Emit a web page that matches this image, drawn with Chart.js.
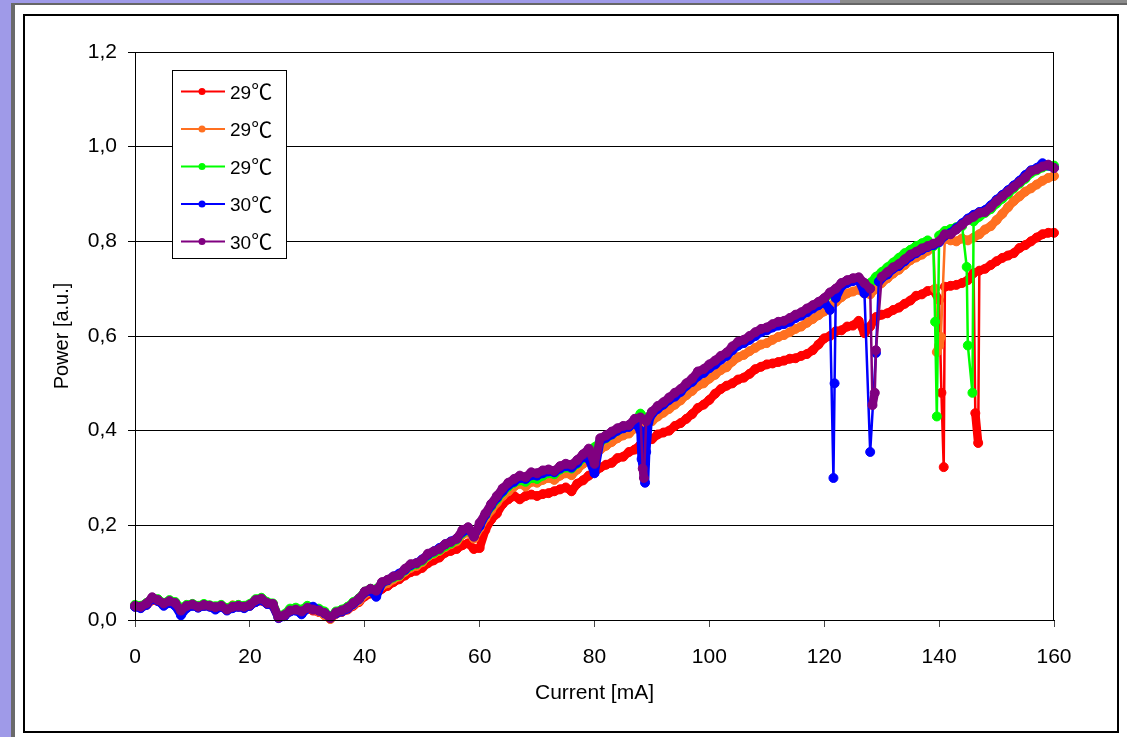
<!DOCTYPE html>
<html>
<head>
<meta charset="utf-8">
<script src="https://cdn.jsdelivr.net/npm/chart.js@4/dist/chart.umd.min.js"></script>
<style>
  body { margin: 0; background: #fff; width: 1127px; height: 737px; overflow: hidden; position: relative; }
  .strip { position: absolute; }
  #frame { position: absolute; left: 23px; top: 14px; width: 1092px; height: 715px; border: 2px solid #000; background: #fff; }
  #chartPower { display: block; }
</style>
</head>
<body>
<div class="strip" style="left:0;top:0;width:1127px;height:3px;background:#9f9ae8"></div>
<div class="strip" style="left:840px;top:0;width:287px;height:3px;background:#8c8c8c"></div>
<div class="strip" style="left:0;top:0;width:11px;height:737px;background:#9f9ae8"></div>
<div class="strip" style="left:11px;top:3px;width:1116px;height:2px;background:#666"></div>
<div class="strip" style="left:11px;top:3px;width:4px;height:734px;background:#6a6a6a"></div>
<div id="frame"><canvas id="chartPower" width="1092" height="715"></canvas></div>

<script>
// eje X: corriente en mA (una muestra por mA)
const currentMA = [];
for (let i = 0; i <= 160; i++) currentMA.push(i);

const seriesTemps = ['29', '29', '29', '30', '30'];
const seriesLabels = seriesTemps.map(t => t + '℃');
const seriesColors = ['#ff0000', '#ff7020', '#00ff00', '#0000ff', '#800080'];

const yTicks = [0, 0.2, 0.4, 0.6, 0.8, 1.0, 1.2];
const xTicks = [0, 20, 40, 60, 80, 100, 120, 140, 160];

// potencia, 0..160 mA
const powerRed = [
  0.028, 0.026, 0.032, 0.042, 0.040, 0.032, 0.037, 0.032, 0.018, 0.027,
  0.031, 0.027, 0.030, 0.029, 0.025, 0.029, 0.022, 0.029, 0.028, 0.026,
  0.030, 0.038, 0.041, 0.034, 0.030, 0.005, 0.009, 0.019, 0.021, 0.017,
  0.024, 0.020, 0.017, 0.012, 0.003, 0.013, 0.017, 0.022, 0.030, 0.038,
  0.050, 0.056, 0.055, 0.066, 0.072, 0.080, 0.086, 0.094, 0.101, 0.104,
  0.110, 0.120, 0.126, 0.132, 0.142, 0.146, 0.150, 0.158, 0.162, 0.150,
  0.152, 0.190, 0.212, 0.225, 0.245, 0.255, 0.262, 0.255, 0.262, 0.265,
  0.262, 0.266, 0.268, 0.272, 0.276, 0.280, 0.272, 0.288, 0.295, 0.305,
  0.312, 0.322, 0.328, 0.332, 0.342, 0.345, 0.355, 0.360, 0.370, 0.378,
  0.382, 0.392, 0.396, 0.400, 0.410, 0.416, 0.425, 0.435, 0.448, 0.455,
  0.465, 0.478, 0.488, 0.495, 0.500, 0.508, 0.512, 0.520, 0.530, 0.535,
  0.540, 0.542, 0.545, 0.548, 0.552, 0.553, 0.558, 0.562, 0.570, 0.582,
  0.595, 0.600, 0.610, 0.612, 0.620, 0.622, 0.632, 0.606, 0.620, 0.640,
  0.645, 0.648, 0.655, 0.660, 0.668, 0.675, 0.685, 0.688, 0.695, 0.697,
  0.676, 0.704, 0.706, 0.708, 0.712, 0.718, 0.733, 0.738, 0.742, 0.750,
  0.758, 0.765, 0.770, 0.775, 0.786, 0.792, 0.800, 0.808, 0.815, 0.818, 0.818
];
const powerOrange = [
  0.030, 0.027, 0.033, 0.044, 0.040, 0.033, 0.038, 0.034, 0.022, 0.028,
  0.032, 0.028, 0.031, 0.030, 0.026, 0.030, 0.023, 0.031, 0.030, 0.027,
  0.031, 0.040, 0.043, 0.035, 0.032, 0.006, 0.010, 0.020, 0.023, 0.018,
  0.025, 0.022, 0.018, 0.010, 0.002, 0.014, 0.018, 0.024, 0.032, 0.040,
  0.054, 0.060, 0.058, 0.072, 0.078, 0.086, 0.092, 0.102, 0.110, 0.114,
  0.122, 0.134, 0.140, 0.146, 0.154, 0.160, 0.166, 0.180, 0.186, 0.172,
  0.194, 0.215, 0.232, 0.248, 0.262, 0.272, 0.282, 0.288, 0.282, 0.292,
  0.290, 0.296, 0.300, 0.296, 0.305, 0.310, 0.306, 0.318, 0.330, 0.340,
  0.350, 0.360, 0.368, 0.376, 0.384, 0.390, 0.394, 0.405, 0.410, 0.412,
  0.420, 0.430, 0.438, 0.446, 0.455, 0.464, 0.475, 0.484, 0.495, 0.500,
  0.510, 0.518, 0.528, 0.534, 0.546, 0.555, 0.560, 0.568, 0.575, 0.582,
  0.585, 0.592, 0.598, 0.602, 0.608, 0.615, 0.620, 0.628, 0.636, 0.644,
  0.652, 0.664, 0.672, 0.682, 0.690, 0.694, 0.698, 0.690, 0.688, 0.700,
  0.712, 0.722, 0.732, 0.740, 0.750, 0.760, 0.766, 0.772, 0.780, 0.790,
  0.580, 0.805, 0.802, 0.800, 0.806, 0.802, 0.808, 0.815, 0.825, 0.832,
  0.845, 0.858, 0.872, 0.885, 0.895, 0.905, 0.912, 0.920, 0.928, 0.934, 0.938
];
const powerGreen = [
  0.032, 0.030, 0.036, 0.046, 0.044, 0.036, 0.042, 0.038, 0.025, 0.032,
  0.034, 0.030, 0.034, 0.031, 0.029, 0.032, 0.025, 0.030, 0.032, 0.030,
  0.034, 0.044, 0.047, 0.038, 0.035, 0.006, 0.012, 0.024, 0.026, 0.022,
  0.030, 0.026, 0.024, 0.018, 0.006, 0.018, 0.022, 0.028, 0.038, 0.046,
  0.060, 0.066, 0.065, 0.078, 0.084, 0.090, 0.094, 0.105, 0.114, 0.118,
  0.125, 0.136, 0.142, 0.148, 0.156, 0.162, 0.170, 0.184, 0.190, 0.178,
  0.200, 0.222, 0.240, 0.255, 0.270, 0.282, 0.290, 0.295, 0.292, 0.300,
  0.298, 0.305, 0.310, 0.308, 0.318, 0.322, 0.320, 0.330, 0.342, 0.355,
  0.365, 0.376, 0.384, 0.392, 0.400, 0.406, 0.410, 0.420, 0.436, 0.425,
  0.438, 0.448, 0.456, 0.466, 0.475, 0.484, 0.496, 0.505, 0.518, 0.525,
  0.535, 0.543, 0.552, 0.560, 0.572, 0.580, 0.586, 0.594, 0.602, 0.610,
  0.614, 0.620, 0.625, 0.628, 0.634, 0.640, 0.646, 0.654, 0.662, 0.670,
  0.678, 0.688, 0.698, 0.708, 0.715, 0.718, 0.720, 0.705, 0.712, 0.725,
  0.735, 0.745, 0.755, 0.765, 0.775, 0.782, 0.790, 0.796, 0.802, 0.790,
  0.812, 0.822, 0.826, 0.830, 0.832, 0.580, 0.842, 0.852, 0.860, 0.868,
  0.880, 0.890, 0.900, 0.912, 0.922, 0.932, 0.944, 0.950, 0.956, 0.960, 0.960
];
const powerBlue = [
  0.028, 0.025, 0.032, 0.045, 0.040, 0.030, 0.036, 0.030, 0.010, 0.025,
  0.030, 0.026, 0.030, 0.028, 0.022, 0.028, 0.020, 0.025, 0.028, 0.025,
  0.030, 0.038, 0.042, 0.034, 0.030, 0.004, 0.008, 0.018, 0.020, 0.012,
  0.024, 0.028, 0.020, 0.014, 0.006, 0.014, 0.018, 0.024, 0.034, 0.044,
  0.058, 0.062, 0.049, 0.078, 0.084, 0.092, 0.098, 0.106, 0.116, 0.120,
  0.128, 0.138, 0.145, 0.152, 0.160, 0.166, 0.172, 0.186, 0.192, 0.178,
  0.198, 0.222, 0.242, 0.258, 0.272, 0.285, 0.292, 0.300, 0.298, 0.306,
  0.305, 0.310, 0.314, 0.312, 0.320, 0.325, 0.322, 0.332, 0.345, 0.340,
  0.310, 0.378, 0.385, 0.392, 0.400, 0.405, 0.408, 0.418, 0.400, 0.355,
  0.435, 0.446, 0.455, 0.465, 0.472, 0.482, 0.495, 0.503, 0.515, 0.522,
  0.532, 0.540, 0.550, 0.558, 0.570, 0.580, 0.585, 0.592, 0.600, 0.608,
  0.612, 0.618, 0.622, 0.625, 0.630, 0.638, 0.643, 0.650, 0.658, 0.665,
  0.672, 0.655, 0.680, 0.705, 0.712, 0.716, 0.718, 0.690, 0.355, 0.564,
  0.722, 0.730, 0.742, 0.748, 0.758, 0.768, 0.775, 0.782, 0.788, 0.792,
  0.798, 0.812, 0.818, 0.828, 0.838, 0.848, 0.856, 0.862, 0.866, 0.876,
  0.888, 0.898, 0.908, 0.918, 0.928, 0.940, 0.950, 0.955, 0.965, 0.960, 0.955
];
const powerPurple = [
  0.030, 0.028, 0.035, 0.048, 0.042, 0.035, 0.040, 0.036, 0.020, 0.030,
  0.033, 0.028, 0.032, 0.030, 0.027, 0.030, 0.022, 0.028, 0.030, 0.028,
  0.032, 0.042, 0.045, 0.036, 0.034, 0.005, 0.010, 0.020, 0.022, 0.018,
  0.026, 0.022, 0.020, 0.015, 0.004, 0.016, 0.020, 0.026, 0.036, 0.045,
  0.060, 0.066, 0.062, 0.080, 0.085, 0.092, 0.095, 0.108, 0.118, 0.120,
  0.127, 0.140, 0.145, 0.150, 0.160, 0.165, 0.172, 0.190, 0.196, 0.176,
  0.205, 0.225, 0.245, 0.262, 0.278, 0.290, 0.298, 0.305, 0.302, 0.312,
  0.310, 0.316, 0.318, 0.315, 0.325, 0.330, 0.328, 0.338, 0.350, 0.362,
  0.330, 0.384, 0.390, 0.398, 0.405, 0.410, 0.412, 0.425, 0.428, 0.420,
  0.440, 0.452, 0.460, 0.470, 0.480, 0.488, 0.500, 0.510, 0.525, 0.530,
  0.540, 0.548, 0.558, 0.565, 0.578, 0.588, 0.592, 0.600, 0.608, 0.615,
  0.618, 0.625, 0.630, 0.632, 0.638, 0.645, 0.650, 0.658, 0.665, 0.672,
  0.680, 0.692, 0.700, 0.712, 0.718, 0.722, 0.724, 0.712, 0.700, 0.570,
  0.725, 0.735, 0.745, 0.752, 0.762, 0.772, 0.778, 0.785, 0.790, 0.795,
  0.800, 0.815, 0.815, 0.825, 0.835, 0.845, 0.852, 0.860, 0.862, 0.872,
  0.885, 0.895, 0.905, 0.915, 0.925, 0.935, 0.948, 0.952, 0.958, 0.962, 0.955
];

// caidas bruscas entre muestras: [mA, potencia]
const dipsRed = [[140.4, 0.48], [140.8, 0.323], [146.3, 0.437], [146.8, 0.374]];
const dipsOrange = [[139.3, 0.70], [139.6, 0.566], [140.3, 0.598]];
const dipsGreen = [[139.3, 0.63], [139.6, 0.43], [144.8, 0.746], [145.8, 0.48]];
const dipsBlue = [[88.2, 0.34], [88.8, 0.29], [89.4, 0.418], [121.6, 0.30], [121.8, 0.50], [129.5, 0.715]];
const dipsPurple = [[88.4, 0.32], [88.6, 0.30], [128.4, 0.454], [128.8, 0.48]];

const allPower = [powerRed, powerOrange, powerGreen, powerBlue, powerPurple];
const allDips = [dipsRed, dipsOrange, dipsGreen, dipsBlue, dipsPurple];

const FONT = "'Liberation Sans', Arial, 'DejaVu Sans', sans-serif";
const CJK_FONT = "'Noto Sans CJK JP', 'Noto Sans CJK SC', sans-serif";

function buildPoints(values, dips) {
  const pts = currentMA.map((x, i) => ({ x: x, y: values[i] }));
  dips.forEach(d => pts.push({ x: d[0], y: d[1] }));
  pts.sort((a, b) => a.x - b.x);
  return pts;
}

function fmt(v) {
  return v.toFixed(1).replace('.', ',');
}

// tramos normales gruesos (muestras muy densas), caidas con linea fina
function segWidth(c) {
  return Math.abs(c.p1.parsed.y - c.p0.parsed.y) > 0.08 ? 2.5 : 8.5;
}

// borde del area de trazado + leyenda con marco
const framePlugin = {
  id: 'frameLegend',
  afterDraw(chart) {
    const ctx = chart.ctx;
    const a = chart.chartArea;
    ctx.save();
    ctx.strokeStyle = '#000';
    ctx.lineWidth = 1;
    ctx.strokeRect(a.left + 0.5, a.top + 0.5, a.right - a.left - 1, a.bottom - a.top);

    const bx = a.left + 37, by = a.top + 18, bw = 114, bh = 188;
    ctx.fillStyle = '#fff';
    ctx.fillRect(bx, by, bw, bh);
    ctx.strokeRect(bx + 0.5, by + 0.5, bw, bh);
    ctx.textBaseline = 'alphabetic';
    seriesTemps.forEach((t, i) => {
      const y = by + 21.5 + i * 37.5;
      ctx.strokeStyle = seriesColors[i];
      ctx.lineWidth = 2;
      ctx.beginPath();
      ctx.moveTo(bx + 9, y);
      ctx.lineTo(bx + 53, y);
      ctx.stroke();
      ctx.fillStyle = seriesColors[i];
      ctx.beginPath();
      ctx.arc(bx + 30, y, 3.5, 0, Math.PI * 2);
      ctx.fill();
      // numero en Arial y el simbolo ℃ en fuente CJK (ancho completo)
      ctx.fillStyle = '#000';
      ctx.font = '19px ' + FONT;
      ctx.fillText(t, bx + 58, y + 7);
      const w = ctx.measureText(t).width;
      ctx.font = '21px ' + CJK_FONT;
      ctx.fillText('℃', bx + 58 + w, y + 7.5);
    });
    ctx.restore();
  }
};

document.addEventListener('DOMContentLoaded', function () {
  const canvas = document.getElementById('chartPower');

  const datasets = allPower.map((vals, i) => ({
    label: seriesLabels[i],
    data: buildPoints(vals, allDips[i]),
    borderColor: seriesColors[i],
    backgroundColor: seriesColors[i],
    borderWidth: 8.5,
    borderJoinStyle: 'round',
    borderCapStyle: 'round',
    segment: { borderWidth: segWidth },
    pointRadius: 4.5,
    pointBorderWidth: 1,
    pointBackgroundColor: seriesColors[i],
    pointBorderColor: seriesColors[i],
    tension: 0,
    clip: false,
    order: allPower.length - i   // el ultimo (morado) queda arriba
  }));

  new Chart(canvas, {
    type: 'line',
    data: { datasets: datasets },
    options: {
      responsive: false,
      animation: false,
      events: [],
      layout: { padding: { left: 0, top: 36, right: 63, bottom: 0 } },
      plugins: {
        legend: { display: false },
        tooltip: { enabled: false }
      },
      scales: {
        x: {
          type: 'linear',
          min: 0,
          max: 160,
          afterFit: s => { s.height = 111; },
          afterBuildTicks: s => { s.ticks = xTicks.map(v => ({ value: v })); },
          grid: { drawOnChartArea: false, drawTicks: true, tickLength: 7, tickColor: '#444', color: '#000' },
          border: { color: '#000', width: 1 },
          ticks: { color: '#000', padding: 18, maxRotation: 0, font: { family: FONT, size: 21 } },
          title: { display: true, text: 'Current [mA]', color: '#000', font: { family: FONT, size: 21 }, padding: { top: 0, bottom: 25 } }
        },
        y: {
          min: 0,
          max: 1.2,
          afterFit: s => { s.width = 110; },
          afterBuildTicks: s => { s.ticks = yTicks.map(v => ({ value: v })); },
          grid: { color: '#000', lineWidth: 1, drawTicks: true, tickLength: 7, tickColor: '#000' },
          border: { color: '#000', width: 1 },
          ticks: { color: '#000', padding: 11, font: { family: FONT, size: 21 }, callback: v => fmt(v) },
          title: { display: true, text: 'Power [a.u.]', color: '#000', font: { family: FONT, size: 20 }, padding: { top: 25, bottom: 0 } }
        }
      }
    },
    plugins: [framePlugin]
  });
});
</script>
</body>
</html>
